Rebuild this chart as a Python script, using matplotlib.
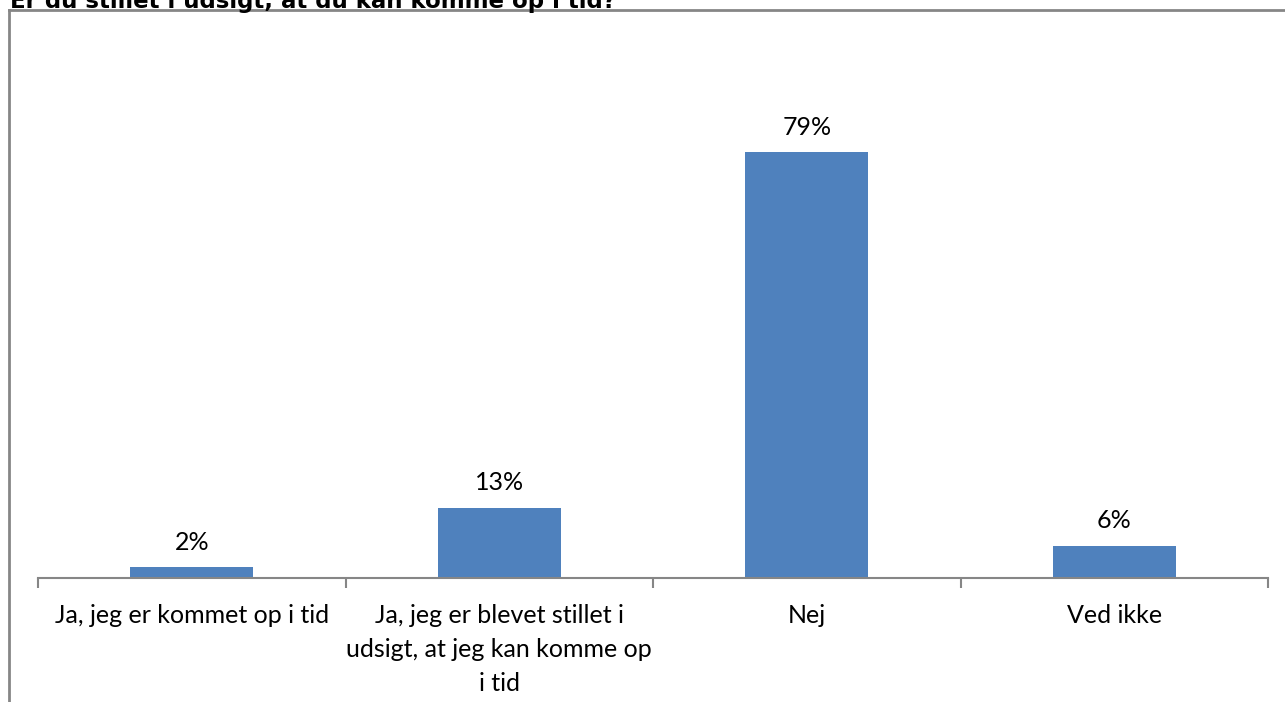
import matplotlib.pyplot as plt
from matplotlib.lines import Line2D

categories = ["Ja, jeg er kommet op i tid",
              "Ja, jeg er blevet stillet i\nudsigt, at jeg kan komme op\ni tid",
              "Nej",
              "Ved ikke"]
values = [2, 13, 79, 6]
labels = ["2%", "13%", "79%", "6%"]

plt.rcParams['font.family'] = ['Lato', 'DejaVu Sans']

W, H = 1285, 702
fig = plt.figure(figsize=(W / 100, H / 100), dpi=100)
ax = fig.add_axes([38 / W, 1 - 578 / H, (1268 - 38) / W, (578 - 93) / H])

x = range(len(categories))
ax.bar(x, values, width=0.4, color='#4f81bd')
ax.set_xlim(-0.5, len(categories) - 0.5)
ax.set_ylim(0, 90)

for xi, v, lab in zip(x, values, labels):
    ax.annotate(lab, (xi, v), xytext=(0, 18), textcoords='offset points',
                ha='center', va='center', fontsize=18, color='#000000')

for s in ['top', 'right', 'left']:
    ax.spines[s].set_visible(False)
ax.spines['bottom'].set_color('#868686')
ax.spines['bottom'].set_linewidth(1.5)
ax.set_yticks([])
ax.set_xticks([i - 0.5 for i in range(len(categories) + 1)], minor=False)
ax.set_xticklabels([])
ax.tick_params(axis='x', length=7, width=1.5, color='#868686', direction='out')
ax.set_xticks(list(x), minor=True)
ax.set_xticklabels(categories, minor=True, fontsize=18, linespacing=1.58, va='top')
ax.tick_params(axis='x', which='minor', length=0, pad=19)

# chart frame (partly outside the picture)
fig.add_artist(Line2D([9 / W, 1.01], [1 - 10 / H, 1 - 10 / H], color='#868686', lw=2))
fig.add_artist(Line2D([9 / W, 9 / W], [1 - 10 / H, -0.01], color='#868686', lw=2))

fig.text(10 / W, 1 - 8 / H, "Er du stillet i udsigt, at du kan komme op i tid?",
         fontsize=16.5, fontweight='bold', family='DejaVu Sans',
         ha='left', va='baseline')

fig.savefig('out.png', dpi=100)
